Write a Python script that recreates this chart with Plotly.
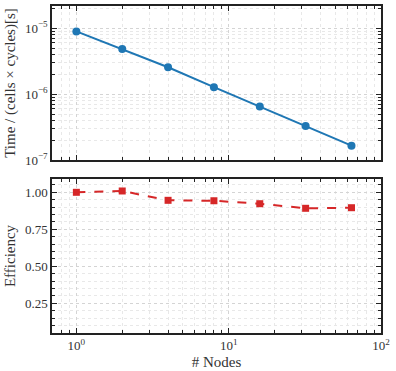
import plotly.graph_objects as go
from plotly.subplots import make_subplots

# Strong scaling data
nodes = [1, 2, 4, 8, 16, 32, 64]
time_per_cell_cycle = [9.0e-6, 4.85e-6, 2.57e-6, 1.28e-6, 6.5e-7, 3.3e-7, 1.65e-7]
efficiency = [1.00, 1.009, 0.946, 0.943, 0.923, 0.892, 0.896]

x_tickvals = [1, 10, 100]
x_ticktext = ['10<sup>0</sup>', '10<sup>1</sup>', '10<sup>2</sup>']
y_tickvals = [1e-7, 1e-6, 1e-5]
y_ticktext = ['10<sup>\u22127</sup>', '10<sup>\u22126</sup>', '10<sup>\u22125</sup>']
eff_tickvals = [0.25, 0.50, 0.75, 1.00]
eff_ticktext = ['0.25', '0.50', '0.75', '1.00']

x_minor = [m * 10 ** e for e in (-1, 0, 1) for m in range(2, 10)]
y_minor = [m * 10 ** e for e in (-7, -6, -5) for m in range(2, 10)]

font_family = 'Liberation Serif'

fig = make_subplots(rows=2, cols=1, shared_xaxes=True, vertical_spacing=0.058)

fig.add_trace(go.Scatter(
    x=nodes, y=time_per_cell_cycle, mode='lines+markers',
    line=dict(color='#1f77b4', width=2),
    marker=dict(symbol='circle', size=8, color='#1f77b4'),
    showlegend=False,
), row=1, col=1)

fig.add_trace(go.Scatter(
    x=nodes, y=efficiency, mode='lines+markers',
    line=dict(color='#d62728', width=2, dash='dash'),
    marker=dict(symbol='square', size=7, color='#d62728'),
    showlegend=False,
), row=2, col=1)

axis_common = dict(
    showline=True, linecolor='#222', linewidth=1.5, mirror='allticks',
    ticks='inside', ticklen=5, tickwidth=1, tickcolor='#222',
    showgrid=True, gridcolor='#d4d4d4', griddash='dot', gridwidth=0.8,
    zeroline=False,
    tickfont=dict(family=font_family, size=13, color='#333'),
)
minor_common = dict(ticks='inside', ticklen=3, tickcolor='#222', showgrid=True,
                    gridcolor='#e8e8e8', griddash='dot', gridwidth=0.8)

for r in (1, 2):
    fig.update_xaxes(
        type='log', range=[-0.16, 2.0],
        tickvals=x_tickvals, ticktext=x_ticktext,
        minor=dict(tickvals=x_minor, **minor_common),
        showticklabels=(r == 2),
        row=r, col=1, **axis_common,
    )

fig.update_yaxes(
    type='log', range=[-7, -4.66],
    tickvals=y_tickvals, ticktext=y_ticktext,
    minor=dict(tickvals=y_minor, **minor_common),
    title=dict(text='Time / (cells \u00d7 cycles)[s]', standoff=6,
               font=dict(family=font_family, size=15, color='#333')),
    row=1, col=1, **axis_common,
)

fig.update_yaxes(
    range=[0.05, 1.09],
    tickvals=eff_tickvals, ticktext=eff_ticktext,
    minor=dict(dtick=0.05, tick0=0, **minor_common),
    title=dict(text='Efficiency', standoff=6,
               font=dict(family=font_family, size=15, color='#333')),
    row=2, col=1, **axis_common,
)

fig.update_xaxes(
    title=dict(text='# Nodes', standoff=4,
               font=dict(family=font_family, size=15, color='#333')),
    row=2, col=1,
)

fig.update_layout(
    width=396, height=371,
    margin=dict(l=52, r=15, t=6, b=38),
    plot_bgcolor='white', paper_bgcolor='white',
    font=dict(family=font_family, color='#333'),
)
fig.layout.xaxis.automargin = False
fig.layout.xaxis2.automargin = False
fig.layout.yaxis.automargin = False
fig.layout.yaxis2.automargin = False

fig.write_html('out.html', config={'displayModeBar': False},
               post_script="document.body.style.margin='0';")
